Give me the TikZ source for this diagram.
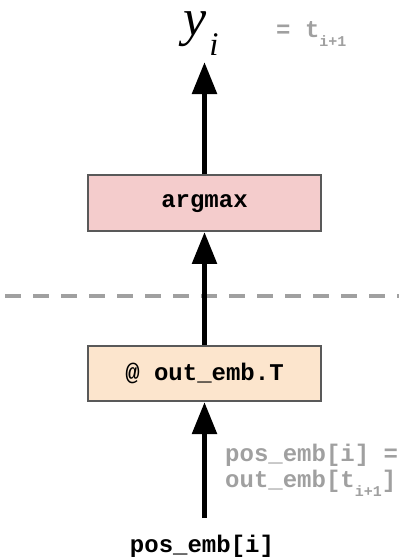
\documentclass[tikz,border=0pt]{standalone}
\usepackage{fontspec}
\setmonofont{Liberation Mono}
\newfontfamily\timesfont{Liberation Serif}
\usetikzlibrary{arrows.meta}
\definecolor{boxborder}{HTML}{595959}
\definecolor{pinkfill}{HTML}{F4CCCC}
\definecolor{peachfill}{HTML}{FCE5CD}
\definecolor{labelgray}{HTML}{A0A0A0}
\tikzset{
  opbox/.style={draw=boxborder, line width=2pt, minimum width=233pt, minimum height=55.5pt,
    inner sep=0pt, font=\fontsize{24}{26}\selectfont\ttfamily\bfseries, text=black},
  flowarrow/.style={line width=5.5pt, -{Triangle[length=32pt,width=24pt]}, black},
  graylabel/.style={inner sep=0pt, anchor=base west, text=labelgray,
    font=\fontsize{24}{26}\selectfont\ttfamily\bfseries},
  blacklabel/.style={inner sep=0pt, anchor=base, text=black,
    font=\fontsize{24}{26}\selectfont\ttfamily\bfseries},
  sepline/.style={draw=labelgray, line width=4pt, dash pattern=on 16pt off 12pt, dash phase=23pt}
}
\newcommand{\smallsub}[1]{\raisebox{-9.5pt}{\fontsize{15}{15}\selectfont #1}}
\begin{document}
\begin{tikzpicture}[x=1pt,y=-1pt]
\useasboundingbox (0,0) rectangle (399,560);
% separator
\coordinate (sepL) at (0,295.7);
\coordinate (sepR) at (399,295.7);
\draw[sepline] (sepL) -- (sepR);
% boxes
\node[opbox, fill=pinkfill] (argmax) at (204.5,203.2) {argmax};
\node[opbox, fill=peachfill] (outemb) at (204.5,373.3) {@ out\_emb.T};
% arrows
\coordinate (top) at (204.5,62);
\coordinate (bot) at (204.5,518);
\draw[flowarrow] (argmax.north) -- (top);
\draw[flowarrow] (outemb.north) -- (argmax.south);
\draw[flowarrow] (bot) -- (outemb.south);
% output label
\node[inner sep=0pt, anchor=base west, font=\timesfont\itshape\fontsize{52}{52}\selectfont] (yi) at (183,35)
  {\smash{y}\hspace{3pt}\raisebox{-20pt}{\fontsize{33}{33}\selectfont i}};
\node[graylabel] (eqt) at (276,37) {= t\smallsub{i+1}};
% input labels
\node[graylabel] (posa) at (225,461.7) {pos\_emb[i] =};
\node[graylabel] (posb) at (225,487) {out\_emb[t\smallsub{i+1}]};
\node[blacklabel] (inp) at (202,552.7) {pos\_emb[i]};
\end{tikzpicture}
\end{document}
